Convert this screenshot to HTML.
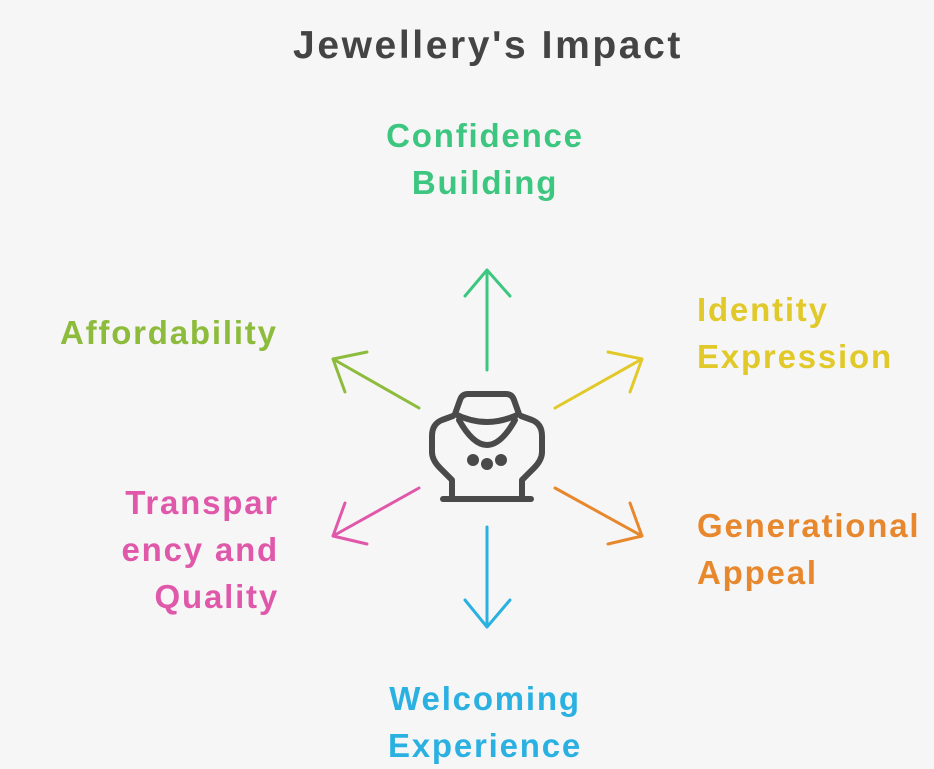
<!DOCTYPE html>
<html><head><style>
html,body{margin:0;padding:0;background:#f6f6f6;}
body{width:934px;height:766px;position:relative;overflow:hidden;font-family:"Liberation Sans",sans-serif;}
.t{position:absolute;font-weight:bold;font-size:33px;line-height:47px;white-space:nowrap;letter-spacing:1.8px;}
</style></head><body>
<div class="t" style="left:0;width:976px;text-align:center;top:22px;color:#444;font-size:39px;letter-spacing:2.6px;">Jewellery's Impact</div>
<div class="t" style="left:375px;top:112px;color:#3cc67f;text-align:center;width:220px;">Confidence<br>Building</div>
<div class="t" style="left:60px;top:309px;color:#8dbb3c;">Affordability</div>
<div class="t" style="left:697px;top:286px;color:#e2c92a;">Identity<br>Expression</div>
<div class="t" style="left:697px;top:502px;color:#e8882e;">Generational<br>Appeal</div>
<div class="t" style="left:80px;top:479px;color:#e058a9;text-align:right;width:199px;">Transpar<br>ency and<br>Quality</div>
<div class="t" style="left:375px;top:675px;color:#2ab1e1;text-align:center;width:220px;">Welcoming<br>Experience</div>
<svg width="934" height="766" style="position:absolute;left:0;top:0" fill="none" stroke-width="3" stroke-linecap="round" stroke-linejoin="round">
<g stroke="#3cc67f"><path d="M487 370V270M465 296L487 270L510 296"/></g>
<g stroke="#8dbb3c"><path d="M419 408L333 359M367 352L333 359L345 392"/></g>
<g stroke="#e2c92a"><path d="M555 408L642 359M608 352L642 359L630 392"/></g>
<g stroke="#e058a9"><path d="M419 488L333 536M345 503L333 536L367 544"/></g>
<g stroke="#e8882e"><path d="M555 488L642 536M630 503L642 536L608 544"/></g>
<g stroke="#2ab1e1"><path d="M487 527V627M465 600L487 627L510 600"/></g>
<g stroke="#4a4a4a" stroke-width="6">
<path d="M455 414L460 400Q462 394 468 394H506Q512 394 514 400L519 414Q487 430 455 414Z"/>
<path d="M459 420Q487 470 515 420"/>
<path d="M453 416L442 420Q432 424 432 436V452Q432 460 440 468L452 480V498"/>
<path d="M521 416L532 420Q542 424 542 436V452Q542 460 534 468L522 480V498"/>
<path d="M443 499H531"/>
</g>
<g fill="#4a4a4a"><circle cx="473" cy="460" r="6"/><circle cx="487" cy="464" r="6"/><circle cx="501" cy="460" r="6"/></g>
</svg>
</body></html>
